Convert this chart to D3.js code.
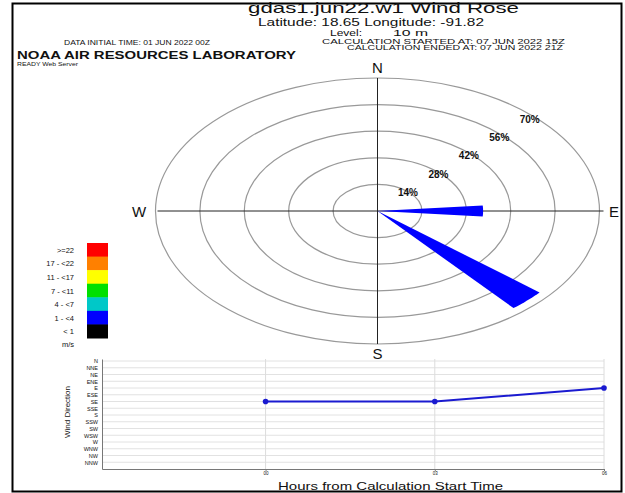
<!DOCTYPE html>
<html>
<head>
<meta charset="utf-8">
<script src="https://cdn.jsdelivr.net/npm/d3@7"></script>
<style>
  body { margin: 0; background: #fff; }
  text { font-family: "Liberation Sans", Arial, sans-serif; fill: #111; }
</style>
</head>
<body>
<script>
// ---- data ----
const roseDirs = ["E", "SE"];
const roseBearings = [90, 135];
const rosePercents = [33.3, 66.7];
const ringValues = [14, 28, 42, 56, 70];
const speedLabels = [">=22", "17 - <22", "11 - <17", "7 - <11", "4 - <7", "1 - <4", "< 1"];
const speedColors = ["#ff0000", "#ff8000", "#ffff00", "#00e000", "#00c8c8", "#0000ff", "#000000"];
const dirLabels = ["N", "NNE", "NE", "ENE", "E", "ESE", "SE", "SSE", "S", "SSW", "SW", "WSW", "W", "WNW", "NW", "NNW"];
const hours = [0, 3, 6];
const hourLabels = ["00", "03", "06"];
const hourDirs = ["SE", "SE", "E"];

const width = 625, height = 493;

const svg = d3.select("body").append("svg")
  .attr("width", width)
  .attr("height", height);

// frame
svg.append("rect")
  .attr("x", 12.5).attr("y", 3.5)
  .attr("width", 609).attr("height", 488)
  .attr("fill", "none").attr("stroke", "#000").attr("stroke-width", 2);

// header texts
function txt(x, y, s, size, opts = {}) {
  const t = svg.append("text")
    .attr("x", x).attr("y", y)
    .attr("font-size", size)
    .attr("text-anchor", opts.anchor || "start")
    .attr("font-weight", opts.bold ? "bold" : "normal")
    .text(s);
  if (opts.len) t.attr("textLength", opts.len).attr("lengthAdjust", "spacingAndGlyphs");
  return t;
}
txt(248, 13, "gdas1.jun22.w1 Wind Rose", 15, { len: 271 });
txt(258, 26, "Latitude: 18.65 Longitude: -91.82", 11, { len: 226 });
txt(330, 36, "Level:", 9, { len: 32 });
txt(393, 36, "10 m", 9, { len: 35 });
txt(64, 45, "DATA INITIAL TIME: 01 JUN 2022 00Z", 6.5, { len: 146 }).attr("fill", "#333");
txt(322, 44, "CALCULATION STARTED AT: 07 JUN 2022 15Z", 6.5, { len: 243 }).attr("fill", "#333");
txt(347, 50, "CALCULATION ENDED AT: 07 JUN 2022 21Z", 6.5, { len: 216 }).attr("fill", "#333");
txt(17, 59, "NOAA AIR RESOURCES LABORATORY", 10, { len: 279, bold: true }).attr("fill", "#333");
txt(17, 66, "READY Web Server", 6, { len: 61 }).attr("fill", "#333");

// ---- wind rose ----
const cx = 377.5, cy = 211;
const rxScale = d3.scaleLinear().domain([0, 70]).range([0, 222]);
const ryScale = d3.scaleLinear().domain([0, 70]).range([0, 133]);
const pt = (bearing, v) => {
  const a = bearing * Math.PI / 180;
  return [cx + rxScale(v) * Math.sin(a), cy - ryScale(v) * Math.cos(a)];
};

const rose = svg.append("g");

rose.selectAll("ellipse.ring")
  .data(ringValues)
  .enter().append("ellipse")
  .attr("class", "ring")
  .attr("cx", cx).attr("cy", cy)
  .attr("rx", d => rxScale(d))
  .attr("ry", d => ryScale(d))
  .attr("fill", "none")
  .attr("stroke", "#999")
  .attr("stroke-width", 1.2);

rose.append("line")
  .attr("x1", cx - rxScale(70) + 2).attr("x2", cx + rxScale(70) + 4)
  .attr("y1", cy).attr("y2", cy)
  .attr("stroke", "#222");
rose.append("line")
  .attr("x1", cx).attr("x2", cx)
  .attr("y1", cy - ryScale(70)).attr("y2", cy + ryScale(70))
  .attr("stroke", "#222");

// petals
const half = 5;
const petal = d3.line();
rose.selectAll("path.petal")
  .data(roseBearings.map((b, i) => ({ b, v: rosePercents[i], dir: roseDirs[i] })))
  .enter().append("path")
  .attr("class", "petal")
  .attr("d", d => {
    const pts = [[cx, cy]];
    for (let k = -half; k <= half; k += 1) pts.push(pt(d.b + k, d.v));
    return petal(pts) + "Z";
  })
  .attr("fill", speedColors[5]);

// ring labels
rose.selectAll("text.ringlab")
  .data(ringValues)
  .enter().append("text")
  .attr("class", "ringlab")
  .attr("x", d => pt(45, d * 0.97)[0])
  .attr("y", d => pt(45, d * 0.97)[1] + 3)
  .attr("text-anchor", "middle")
  .attr("font-size", 10)
  .attr("font-weight", "bold")
  .attr("fill", "#333")
  .text(d => d + "%");

// compass letters
txt(cx, 73, "N", 15, { anchor: "middle" });
txt(cx, 359, "S", 15, { anchor: "middle" });
txt(139, 217, "W", 15, { anchor: "middle" });
txt(614, 217, "E", 15, { anchor: "middle" });

// ---- legend ----
const legY = d3.scaleBand().domain(speedLabels).range([243, 338]);
const leg = svg.append("g");
leg.selectAll("rect")
  .data(speedLabels)
  .enter().append("rect")
  .attr("x", 87).attr("width", 21)
  .attr("y", d => legY(d))
  .attr("height", legY.bandwidth() + 0.5)
  .attr("fill", (d, i) => speedColors[i]);
leg.selectAll("text")
  .data(speedLabels)
  .enter().append("text")
  .attr("x", 74)
  .attr("y", d => legY(d) + legY.bandwidth() / 2 + 3)
  .attr("text-anchor", "end")
  .attr("font-size", 7.5)
  .attr("fill", "#555")
  .text(d => d);
txt(74, 347, "m/s", 7.5, { anchor: "end" }).attr("fill", "#555");

// ---- time series ----
const x = d3.scaleLinear().domain([-2.9, 6]).range([102, 604]);
const y = d3.scaleLinear().domain([-0.3, 16]).range([359, 469]);
const ts = svg.append("g");

ts.selectAll("line.hgrid")
  .data(dirLabels)
  .enter().append("line")
  .attr("class", "hgrid")
  .attr("x1", 102).attr("x2", 604)
  .attr("y1", (d, i) => y(i)).attr("y2", (d, i) => y(i))
  .attr("stroke", "#e2e2e2");
ts.selectAll("line.vgrid")
  .data(hours)
  .enter().append("line")
  .attr("class", "vgrid")
  .attr("x1", d => x(d)).attr("x2", d => x(d))
  .attr("y1", y(-0.3)).attr("y2", y(16))
  .attr("stroke", "#dcdcdc");

const yAxis = ts.append("g")
  .attr("transform", "translate(102,0)")
  .call(d3.axisLeft(y).tickValues(d3.range(dirLabels.length))
    .tickFormat(i => dirLabels[i]).tickSize(0).tickPadding(4));
yAxis.select(".domain").attr("stroke", "#777");
yAxis.selectAll("text").attr("font-size", 5.5).attr("fill", "#444")
  .attr("font-family", "Liberation Sans, Arial, sans-serif");

const xAxis = ts.append("g")
  .attr("transform", "translate(0,469)")
  .call(d3.axisBottom(x).tickValues(hours)
    .tickFormat((d, i) => hourLabels[i]).tickSize(2).tickPadding(1).tickSizeOuter(0));
xAxis.select(".domain").attr("stroke", "#777");
xAxis.selectAll(".tick line").attr("stroke", "#777");
xAxis.selectAll("text").attr("font-size", 4.5).attr("fill", "#555")
  .attr("font-family", "Liberation Sans, Arial, sans-serif");

const pts = hours.map((h, i) => [x(h), y(dirLabels.indexOf(hourDirs[i]))]);
ts.append("path")
  .attr("d", d3.line()(pts))
  .attr("fill", "none")
  .attr("stroke", "#1a1ad0")
  .attr("stroke-width", 2);
ts.selectAll("circle")
  .data(pts)
  .enter().append("circle")
  .attr("cx", d => d[0]).attr("cy", d => d[1])
  .attr("r", 2.8)
  .attr("fill", "#1a1ad0");

svg.append("text")
  .attr("transform", "translate(70,412) rotate(-90)")
  .attr("text-anchor", "middle")
  .attr("font-size", 8)
  .attr("fill", "#444")
  .text("Wind Direction");

txt(278, 490, "Hours from Calculation Start Time", 11, { len: 225 }).attr("fill", "#333");
</script>
</body>
</html>
